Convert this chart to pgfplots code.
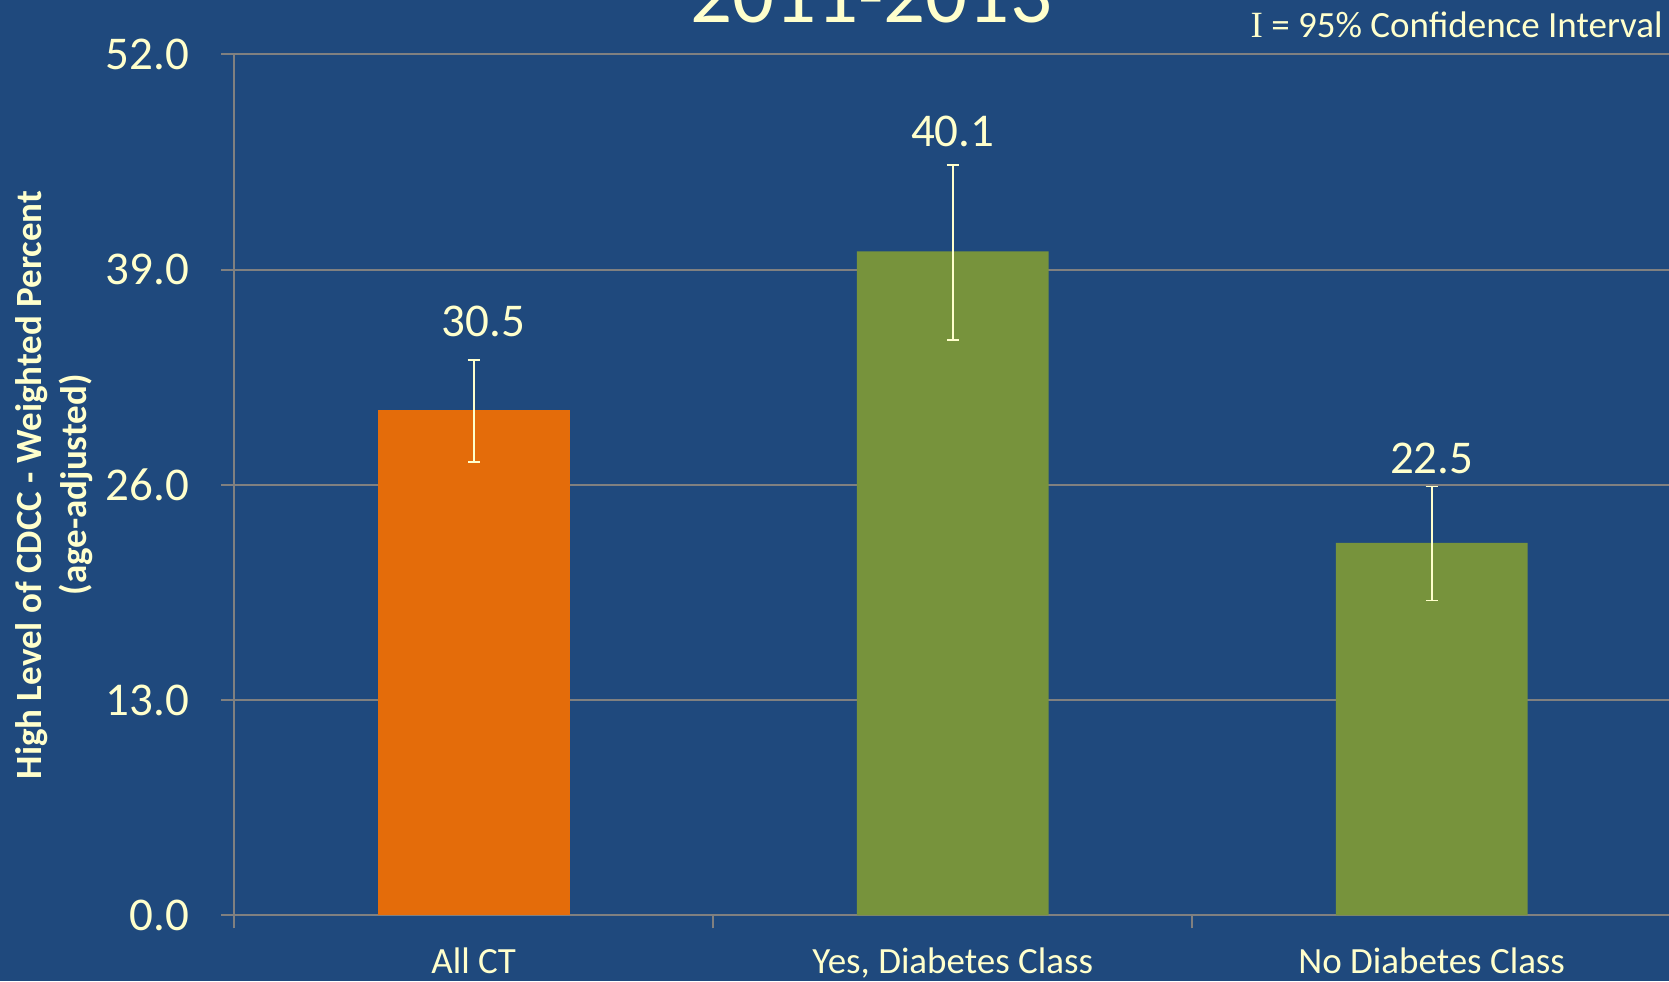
\documentclass[border=0pt]{standalone}
\usepackage{pgfplots}
\pgfplotsset{compat=1.18}
\usepackage{pgfplotstable}
\usepackage{fontspec}
\setmainfont{Carlito}
\newfontfamily\serifI{Liberation Serif}
\definecolor{bg}{HTML}{1F497D}
\definecolor{cream}{HTML}{FFFFCC}
\definecolor{orng}{HTML}{E46C0A}
\definecolor{grn}{HTML}{77933C}
\definecolor{gridgray}{HTML}{808080}

\pgfplotstableread{
x y ep em
0 30.5 3.05 3.12
}\allct
\pgfplotstableread{
x y ep em
1 40.1 5.2 5.33
2 22.5 3.4 3.48
}\diab

\begin{document}
\begin{tikzpicture}
\fill[bg] (0,0) rectangle (834.5pt,490.5pt);
\useasboundingbox (0,0) rectangle (834.5pt,490.5pt);
\node[text=cream, font=\fontsize{41.5}{50}\selectfont, anchor=base, inner sep=0pt] at (435.5pt,479pt) {2011-2013};
\node[text=cream, font=\fontsize{18.5}{22}\selectfont, anchor=base east, inner sep=0pt] at (831.5pt,471.5pt) {{\serifI I} = 95\% Confidence Interval};
\begin{axis}[
  at={(117.1pt,32.8pt)}, anchor=south west,
  scale only axis, width=718.5pt, height=430.5pt,
  xmin=-0.5, xmax=2.5, ymin=0, ymax=52,
  axis lines=left,
  axis line style={-, draw=gridgray, line width=1pt},
  tick align=outside,
  major tick length=6.5pt,
  tick style={draw=gridgray, line width=1pt},
  ymajorgrids,
  grid style={draw=gridgray, line width=1pt},
  ytick={0,13,26,39,52},
  /pgf/number format/assume math mode=true,
  yticklabel style={/pgf/number format/fixed, /pgf/number format/fixed zerofill, /pgf/number format/precision=1,
    font=\fontsize{23.5}{28}\selectfont, text=cream, anchor=east, inner sep=0pt, xshift=-15.8pt},
  xtick={-0.5,0.5,1.5,2.5},
  xticklabels={},
  extra x ticks={0,1,2},
  extra x tick labels={All CT, {Yes, Diabetes Class}, No Diabetes Class},
  extra x tick style={major tick length=0pt,
    xticklabel style={anchor=north, inner sep=0pt, yshift=-16pt, font=\fontsize{18.5}{22}\selectfont, text=cream}},
  ylabel={High Level of CDCC - Weighted Percent\\(age-adjusted)},
  y label style={at={(axis description cs:-0.1253,0.5)}, rotate=0, anchor=center, align=center,
    font=\bfseries\fontsize{18.5}{22.5}\selectfont, text=cream},
  clip=false,
]
\addplot[ybar, bar width=95.8pt, bar shift=0pt, fill=orng, draw=none,
  error bars/.cd, y dir=both, y explicit, error mark=|,
  error bar style={draw=cream, line width=0.9pt},
  error mark options={draw=cream, line width=0.9pt, mark size=3pt}]
  table[x=x, y=y, y error plus=ep, y error minus=em] {\allct};
\addplot[ybar, bar width=95.8pt, bar shift=0pt, fill=grn, draw=none,
  error bars/.cd, y dir=both, y explicit, error mark=|,
  error bar style={draw=cream, line width=0.9pt},
  error mark options={draw=cream, line width=0.9pt, mark size=3pt}]
  table[x=x, y=y, y error plus=ep, y error minus=em] {\diab};
\node[text=cream, font=\fontsize{23.5}{28}\selectfont] at (axis cs:0.02,35.86) {30.5};
\node[text=cream, font=\fontsize{23.5}{28}\selectfont] at (axis cs:1,47.36) {40.1};
\node[text=cream, font=\fontsize{23.5}{28}\selectfont] at (axis cs:2,27.57) {22.5};
\end{axis}
\end{tikzpicture}
\end{document}
